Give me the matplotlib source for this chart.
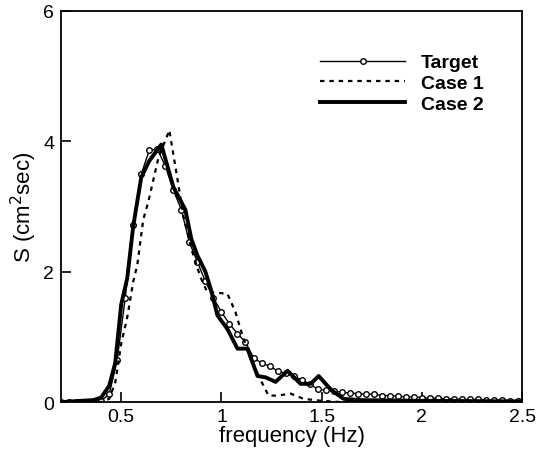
import matplotlib
matplotlib.use("Agg")
import matplotlib.pyplot as plt

plt.rcParams["font.family"] = ["Liberation Sans", "DejaVu Sans"]

# Target spectrum (open circles)
freq_target = [
  0.20, 0.24, 0.28, 0.32, 0.36, 0.40, 0.44, 0.48, 0.52, 0.56,
  0.60, 0.64, 0.68, 0.72, 0.76, 0.80, 0.84, 0.88, 0.92, 0.96,
  1.00, 1.04, 1.08, 1.12, 1.16, 1.20, 1.24, 1.28, 1.32, 1.36,
  1.40, 1.44, 1.48, 1.52, 1.56, 1.60, 1.64, 1.68, 1.72, 1.76,
  1.80, 1.84, 1.88, 1.92, 1.96, 2.00, 2.04, 2.08, 2.12, 2.16,
  2.20, 2.24, 2.28, 2.32, 2.36, 2.40, 2.44, 2.48,
]
s_target = [
  0.00, 0.00, 0.00, 0.00, 0.00, 0.02, 0.12, 0.65, 1.60, 2.72,
  3.50, 3.86, 3.88, 3.62, 3.25, 2.95, 2.45, 2.15, 1.85, 1.60,
  1.38, 1.20, 1.05, 0.92, 0.68, 0.60, 0.55, 0.48, 0.44, 0.40,
  0.34, 0.28, 0.20, 0.18, 0.17, 0.15, 0.14, 0.13, 0.12, 0.12,
  0.10, 0.10, 0.09, 0.08, 0.08, 0.07, 0.06, 0.06, 0.05, 0.05,
  0.04, 0.04, 0.04, 0.03, 0.03, 0.03, 0.02, 0.02,
]

# Case 1 (dotted)
freq_case1 = [
  0.20, 0.40, 0.44, 0.47, 0.50, 0.53, 0.56, 0.58, 0.61, 0.635,
  0.685, 0.74, 0.78, 0.81, 0.855, 0.895, 0.93, 0.97, 1.03, 1.07,
  1.095, 1.145, 1.21, 1.235, 1.28, 1.345, 1.41, 1.50, 1.60, 2.50,
]
s_case1 = [
  0.00, 0.00, 0.05, 0.30, 0.90, 1.30, 1.85, 2.10, 2.80, 3.07,
  3.74, 4.17, 3.43, 2.85, 2.30, 1.92, 1.68, 1.68, 1.66, 1.38,
  1.12, 0.66, 0.25, 0.10, 0.10, 0.13, 0.05, 0.02, 0.00, 0.00,
]

# Case 2 (thick solid)
freq_case2 = [
  0.20, 0.30, 0.36, 0.40, 0.44, 0.47, 0.50, 0.53, 0.56, 0.60,
  0.64, 0.70, 0.76, 0.82, 0.85, 0.88, 0.92, 0.95, 0.98, 1.03,
  1.08, 1.13, 1.18, 1.22, 1.27, 1.33, 1.395, 1.445, 1.485, 1.55,
  1.61, 1.70, 2.00, 2.50,
]
s_case2 = [
  0.00, 0.02, 0.03, 0.07, 0.25, 0.60, 1.50, 1.90, 2.70, 3.45,
  3.70, 3.95, 3.30, 2.95, 2.50, 2.25, 2.00, 1.70, 1.33, 1.12,
  0.82, 0.82, 0.40, 0.38, 0.31, 0.48, 0.28, 0.28, 0.40, 0.18,
  0.05, 0.03, 0.02, 0.01,
]

fig = plt.figure(figsize=(5.36, 4.56), dpi=100)
ax = fig.add_axes([0.114, 0.116, 0.860, 0.858])

ax.plot(freq_target, s_target, color="black", lw=1.0, marker="o",
        markersize=4, markerfacecolor="white", markeredgewidth=1.0,
        label="Target")
ax.plot(freq_case1, s_case1, color="black", lw=1.6, linestyle=(0, (2, 2.2)),
        label="Case 1")
ax.plot(freq_case2, s_case2, color="black", lw=2.8, label="Case 2")

ax.set_xlim(0.2, 2.5)
ax.set_ylim(0, 6)
ax.set_xticks([0.5, 1, 1.5, 2, 2.5])
ax.set_xticklabels(["0.5", "1", "1.5", "2", "2.5"])
ax.set_yticks([0, 2, 4, 6])
ax.tick_params(direction="in", length=7, width=1.2, labelsize=14)
ax.tick_params(axis="x", pad=4)
ax.tick_params(axis="y", pad=5)
for sp in ax.spines.values():
  sp.set_linewidth(1.3)

ax.set_xlabel("frequency (Hz)", fontsize=16, labelpad=0)
ax.set_ylabel("S (cm$^2$sec)", fontsize=16, labelpad=3)

leg = ax.legend(loc="upper left", bbox_to_anchor=(0.54, 0.915), frameon=False,
                numpoints=1, handlelength=4.4, handletextpad=0.8,
                labelspacing=0.15, borderpad=0,
                prop={"weight": "bold", "size": 14})

plt.savefig("out.png", dpi=100)
plt.close()
